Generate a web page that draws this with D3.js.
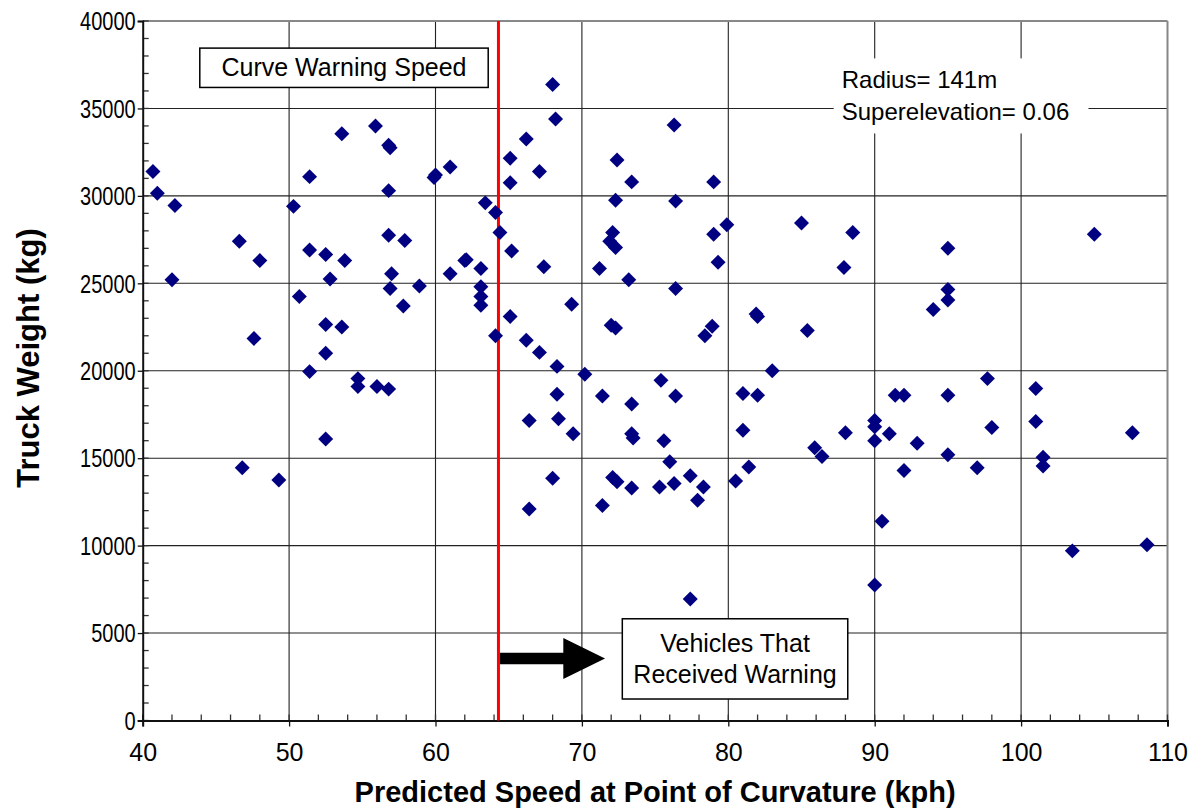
<!DOCTYPE html>
<html><head><meta charset="utf-8">
<script src="https://cdn.jsdelivr.net/npm/d3@7"></script>
<style>body{margin:0;background:#fff}text{font-family:"Liberation Sans",Arial,sans-serif}</style>
</head><body><svg id="c" width="1192" height="809"></svg>
<script>
const speeds = [40.7,41.0,42.2,46.6,48.0,50.3,51.4,51.4,52.5,53.6,53.8,55.9,56.8,56.9,56.8,56.8,57.9,59.9,60.0,61.0,
68.0,68.2,66.2,65.1,67.1,65.1,63.4,64.1,64.4,65.2,62.0,72.4,73.4,76.3,76.4,79.0,72.3,72.1,71.9,72.3,
79.0,79.9,85.0,88.5,95.0,42.0,52.8,50.7,57.0,56.9,57.8,58.9,52.5,53.6,47.6,52.5,51.4,54.7,54.7,56.0,
56.8,52.5,46.8,49.3,62.1,61.0,63.1,63.1,63.1,63.1,67.4,65.1,64.1,66.2,67.1,68.3,70.2,68.3,71.4,73.4,
75.4,76.4,66.4,68.4,69.4,73.4,73.5,75.6,76.0,71.2,73.2,79.3,76.4,69.3,72.0,72.3,78.9,78.4,68.0,72.1,
72.4,66.4,71.4,73.4,75.3,76.3,77.4,78.3,77.9,80.5,81.4,77.4,90.5,90.0,87.9,95.0,95.0,94.0,81.9,82.0,
85.4,83.0,81.0,82.0,81.0,85.9,86.4,88.0,90.0,90.0,90.0,91.0,91.4,92.0,95.0,92.9,95.0,92.0,97.0,97.7,
98.0,101.0,101.0,101.5,101.5,107.6,103.5,108.6,105.0];
const weights = [31400,30150,29450,27400,26300,29400,31100,26900,26650,33550,26300,34000,32900,32750,30300,27750,27450,31050,31200,31650,
36370,34400,33250,32150,31400,30750,29600,29050,27900,26850,26300,32050,30800,34050,29700,30800,29750,27900,27400,27050,
27800,28350,28450,27900,27000,25200,25250,24250,25550,24700,23700,24850,22650,22500,21850,21000,19950,19550,19100,19100,
18950,16100,14450,13750,26350,25550,25850,24800,24250,23750,25950,23100,22000,21750,21050,20250,19800,18650,18550,18100,
19450,18550,17150,17250,16400,16400,16150,16000,14800,25850,25200,26200,24700,23800,22600,22450,22550,22000,13850,13900,
13650,12100,12300,13300,13350,13550,14000,13350,12600,13700,14500,6950,11400,7750,25900,24650,24050,23500,23250,23100,
22300,20000,18700,18600,16600,15600,15100,16450,17150,16800,16000,16400,18600,18600,18600,15850,15200,14300,14450,19550,
16750,18980,17100,15050,14550,16450,9700,10050,27800];
const xTicks = [40,50,60,70,80,90,100,110];
const yTicks = [0,5000,10000,15000,20000,25000,30000,35000,40000];
const warningSpeed = 64.3;
const xLabel = "Predicted Speed at Point of Curvature (kph)";
const yLabel = "Truck Weight (kg)";
const curveText = "Curve Warning Speed";
const radiusLines = ["Radius= 141m","Superelevation= 0.06"];
const vehicleLines = ["Vehicles That","Received Warning"];

const svg = d3.select("#c");
const L=142.7, R=1167.5, T=21, B=720.5;
const x = d3.scaleLinear().domain([40,110]).range([L,R]);
const y = d3.scaleLinear().domain([0,40000]).range([B,T]);

// grid
const g = svg.append("g");
g.selectAll(".vg").data(xTicks.slice(1,-1)).join("line")
 .attr("x1",d=>x(d)).attr("x2",d=>x(d)).attr("y1",T).attr("y2",B)
 .attr("stroke","#222").attr("stroke-width",1.1);
g.selectAll(".hg").data(yTicks.slice(1,-1)).join("line")
 .attr("y1",d=>y(d)).attr("y2",d=>y(d)).attr("x1",L).attr("x2",R)
 .attr("stroke","#222").attr("stroke-width",1.1);

// frame top/right gray
svg.append("line").attr("x1",L).attr("x2",R).attr("y1",T).attr("y2",T).attr("stroke","#888").attr("stroke-width",2);
svg.append("line").attr("x1",R).attr("x2",R).attr("y1",T).attr("y2",B).attr("stroke","#888").attr("stroke-width",2);

// minor ticks (inside)
svg.append("g").selectAll("line").data(d3.range(0,40001,1000)).join("line")
 .attr("x1",L).attr("x2",L+6).attr("y1",d=>y(d)).attr("y2",d=>y(d)).attr("stroke","#333").attr("stroke-width",1.3);
svg.append("g").selectAll("line").data(d3.range(40,110.01,2)).join("line")
 .attr("y1",B).attr("y2",B-6).attr("x1",d=>x(d)).attr("x2",d=>x(d)).attr("stroke","#333").attr("stroke-width",1.3);

// axes
const yAxis = svg.append("g").attr("transform",`translate(${L},0)`)
 .call(d3.axisLeft(y).tickValues(yTicks).tickFormat(d3.format("d")).tickSize(5).tickPadding(0));
const xAxis = svg.append("g").attr("transform",`translate(0,${B})`)
 .call(d3.axisBottom(x).tickValues(xTicks).tickFormat(d3.format("d")).tickSize(6).tickPadding(14));
[yAxis,xAxis].forEach(a=>{
  a.select(".domain").attr("stroke","#111").attr("stroke-width",2);
  a.selectAll(".tick line").attr("stroke","#111").attr("stroke-width",1.3);
  a.selectAll("text").attr("fill","#000").attr("font-family","Liberation Sans, Arial, sans-serif");
});
yAxis.selectAll("text").attr("font-size",25).attr("x",0).attr("dy","0.35em")
 .attr("transform","translate(-7,0) scale(0.8,1)");
xAxis.selectAll("text").attr("font-size",25).attr("dy","0").attr("y",40);

// red warning line
svg.append("line").attr("x1",x(warningSpeed)).attr("x2",x(warningSpeed)).attr("y1",T).attr("y2",B)
 .attr("stroke","#ff0000").attr("stroke-width",3);

// points
svg.append("g").selectAll("path").data(speeds.map((s,i)=>[s,weights[i]])).join("path")
 .attr("d",d3.symbol().type(d3.symbolSquare).size(112))
 .attr("transform",d=>`translate(${x(d[0])},${y(d[1])}) rotate(45)`)
 .attr("fill","#000080");

// Curve Warning Speed box
const cb = {x0:43.9,x1:63.6,y0:38450,y1:36200};
svg.append("rect").attr("x",x(cb.x0)).attr("y",y(cb.y0)).attr("width",x(cb.x1)-x(cb.x0)).attr("height",y(cb.y1)-y(cb.y0))
 .attr("fill","#fff").attr("stroke","#000").attr("stroke-width",1.5);
svg.append("text").attr("x",x((cb.x0+cb.x1)/2)).attr("y",y(36830)).attr("text-anchor","middle")
 .attr("font-size",25).text(curveText);

// Radius box (no border)
const rb = {x0:87.2,x1:104.6,y0:37860,y1:33570};
svg.append("rect").attr("x",x(rb.x0)).attr("y",y(rb.y0)).attr("width",x(rb.x1)-x(rb.x0)).attr("height",y(rb.y1)-y(rb.y0))
 .attr("fill","#fff");
svg.append("text").attr("font-size",24).selectAll("tspan").data(radiusLines).join("tspan")
 .attr("x",x(87.75)).attr("y",(d,i)=>y([36160,34350][i])).text(d=>d);

// arrow
const ay = y(3543);
const ax0 = x(warningSpeed)+1.5, ax1 = x(68.73), ax2 = x(71.58);
svg.append("path").attr("d",`M${ax0},${ay-5.8}L${ax1},${ay-5.8}L${ax1},${ay-20.5}L${ax2},${ay}L${ax1},${ay+20.5}L${ax1},${ay+5.8}L${ax0},${ay+5.8}Z`)
 .attr("fill","#000");

// Vehicles box
const vb = {x0:72.76,x1:88.16,y0:5817,y1:1229};
svg.append("rect").attr("x",x(vb.x0)).attr("y",y(vb.y0)).attr("width",x(vb.x1)-x(vb.x0)).attr("height",y(vb.y1)-y(vb.y0))
 .attr("fill","#fff").attr("stroke","#000").attr("stroke-width",1.5);
svg.append("text").attr("font-size",25).attr("text-anchor","middle").selectAll("tspan").data(vehicleLines).join("tspan")
 .attr("x",x((vb.x0+vb.x1)/2)).attr("y",(d,i)=>y([3931,2160][i])).text(d=>d);

// axis titles
svg.append("text").attr("x",(L+R)/2).attr("y",802).attr("text-anchor","middle")
 .attr("font-size",29).attr("font-weight","bold").text(xLabel);
svg.append("text").attr("transform",`translate(39,358) rotate(-90)`).attr("text-anchor","middle")
 .attr("font-size",31).attr("font-weight","bold").text(yLabel);
</script></body></html>
